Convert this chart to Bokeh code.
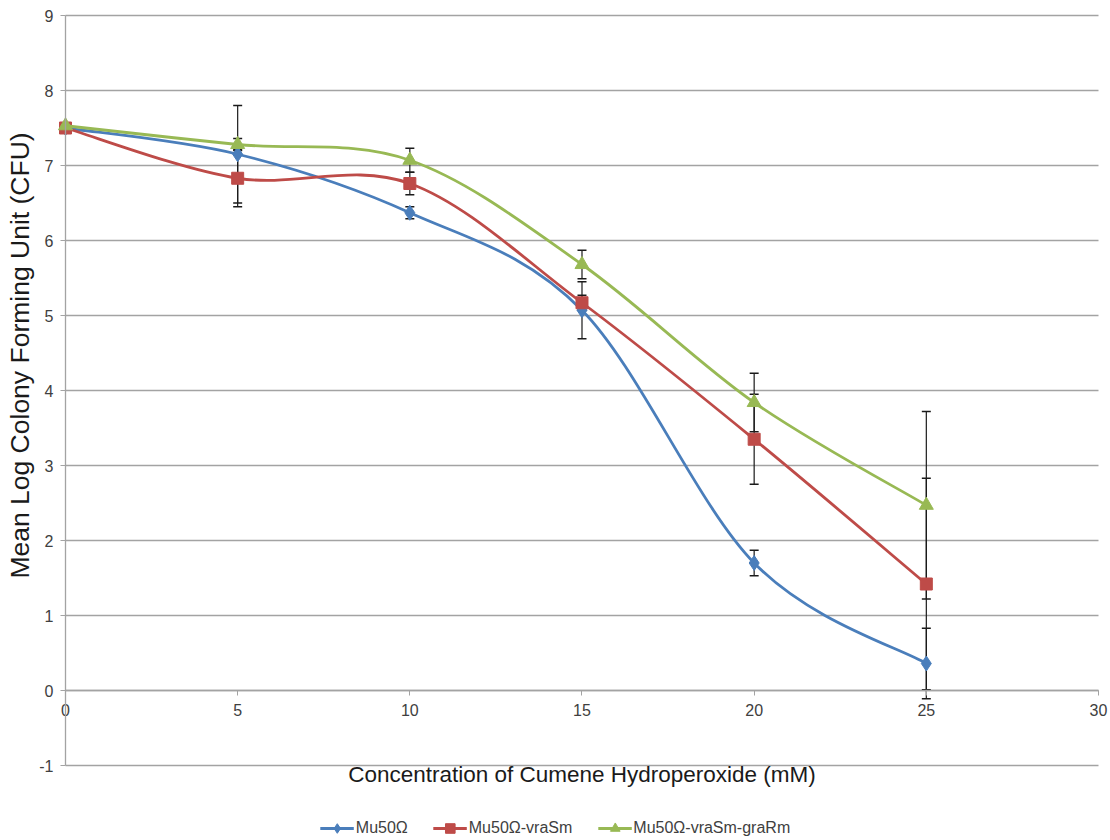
import numpy as np
from bokeh.plotting import figure
from bokeh.models import (Range1d, FixedTicker, ColumnDataSource, Whisker, TeeHead,
                          Legend, LegendItem, LinearAxis)
from bokeh.embed import file_html
from bokeh.resources import INLINE

# ---- data ----
conc = [0, 5, 10, 15, 20, 25]
names = ["Mu50\u03a9", "Mu50\u03a9-vraSm", "Mu50\u03a9-vraSm-graRm"]
mu50 = [7.50, 7.15, 6.37, 5.07, 1.70, 0.36]
mu50_err = [0.0, 0.65, 0.08, 0.38, 0.17, 0.47]
vra = [7.50, 6.83, 6.76, 5.17, 3.35, 1.42]
vra_err = [0.0, 0.38, 0.15, 0.10, 0.60, 1.41]
gra = [7.53, 7.28, 7.07, 5.68, 3.84, 2.47]
gra_err = [0.0, 0.08, 0.16, 0.19, 0.39, 1.25]
x_ticks = [0, 5, 10, 15, 20, 25, 30]
y_ticks = [-1, 0, 1, 2, 3, 4, 5, 6, 7, 8, 9]
x_title = "Concentration of Cumene Hydroperoxide (mM)"
y_title = "Mean Log Colony Forming Unit (CFU)"

colors = ["#4a7ebb", "#be4b48", "#98b954"]
markers = ["diamond", "square", "triangle"]
msizes = [15, 12, 14]

FONT = "Liberation Sans"
GRID = "#a3a3a3"
TICK_TXT = "#404040"

# chart area extents; the frame spans the whole figure so that axes cross at the origin
X0, X1 = x_ticks[0], x_ticks[-1]
Y0, Y1 = y_ticks[0], y_ticks[-1]

p = figure(frame_width=1110, frame_height=840,
           x_range=Range1d(-1.888, 30.349), y_range=Range1d(-2.0, 9.2),
           output_backend="svg", toolbar_location=None,
           min_border_left=0, min_border_top=0, min_border_right=0,
           min_border_bottom=0)
p.outline_line_color = None
p.background_fill_color = "white"
p.border_fill_color = "white"

# main axes, crossing at the origin
p.xaxis.fixed_location = 0
p.yaxis.fixed_location = 0
p.xaxis.bounds = (X0, X1)
p.yaxis.bounds = (Y0, Y1)
p.xaxis.ticker = FixedTicker(ticks=x_ticks)
p.yaxis.ticker = FixedTicker(ticks=y_ticks)
p.yaxis.major_label_overrides = {t: str(t) for t in y_ticks}
for ax in (p.xaxis, p.yaxis):
    ax.axis_line_color = GRID
    ax.axis_line_width = 1.3
    ax.major_tick_line_color = GRID
    ax.minor_tick_line_color = None
    ax.major_tick_in = 0
    ax.major_tick_out = 5
    ax.major_label_text_font = FONT
    ax.major_label_text_font_size = "16px"
    ax.major_label_text_color = TICK_TXT
p.xaxis.major_label_standoff = 8
p.yaxis.major_label_standoff = 7

p.xaxis.axis_label = x_title
p.xaxis.axis_label_text_font = FONT
p.xaxis.axis_label_text_font_size = "22.5px"
p.xaxis.axis_label_text_font_style = "normal"
p.xaxis.axis_label_text_color = "#1a1a1a"
p.xaxis.axis_label_standoff = 43

# y title on its own (label-only) axis so it can be centred like the reference
ylab = LinearAxis(fixed_location=0, bounds=(-0.06, Y1), ticker=FixedTicker(ticks=[]),
                  axis_line_color=None, major_tick_line_color=None,
                  minor_tick_line_color=None, major_label_standoff=0,
                  major_tick_out=0, major_tick_in=0,
                  axis_label=y_title, axis_label_text_font=FONT,
                  axis_label_text_font_size="26.5px", axis_label_text_font_style="normal",
                  axis_label_text_color="#1a1a1a", axis_label_standoff=31)
p.add_layout(ylab, "left")

p.xgrid.grid_line_color = None
p.ygrid.grid_line_color = GRID
p.ygrid.grid_line_width = 1.3
p.ygrid.bounds = (Y0, Y1)
p.ygrid.cross_bounds = (X0, X1)

series = [mu50, vra, gra]
errs = [mu50_err, vra_err, gra_err]

# error bars
for ys, es in zip(series, errs):
    bx = [x for x, e in zip(conc, es) if e > 0]
    up = [y + e for y, e in zip(ys, es) if e > 0]
    lo = [y - e for y, e in zip(ys, es) if e > 0]
    src = ColumnDataSource(dict(base=bx, upper=up, lower=lo))
    w = Whisker(source=src, base="base", upper="upper", lower="lower",
                line_color="#1a1a1a", line_width=1.2,
                upper_head=TeeHead(size=9, line_color="#1a1a1a", line_width=1.5),
                lower_head=TeeHead(size=9, line_color="#1a1a1a", line_width=1.5))
    p.add_layout(w)

# smoothed lines (cubic Bezier through the data points, Excel-style smoothing)
items = []
for ys, c, m, ms, name in zip(series, colors, markers, msizes, names):
    P = np.column_stack([np.array(conc, float), np.array(ys, float)])
    n = len(P)
    segs = dict(x0=[], y0=[], x1=[], y1=[], cx0=[], cy0=[], cx1=[], cy1=[])
    for i in range(n - 1):
        p0 = P[i - 1] if i > 0 else P[i]
        p1 = P[i]
        p2 = P[i + 1]
        p3 = P[i + 2] if i + 2 < n else P[i + 1]
        c1 = p1 + (p2 - p0) / 6.0
        c2 = p2 - (p3 - p1) / 6.0
        segs["x0"].append(p1[0]); segs["y0"].append(p1[1])
        segs["x1"].append(p2[0]); segs["y1"].append(p2[1])
        segs["cx0"].append(c1[0]); segs["cy0"].append(c1[1])
        segs["cx1"].append(c2[0]); segs["cy1"].append(c2[1])
    rb = p.bezier(x0="x0", y0="y0", x1="x1", y1="y1", cx0="cx0", cy0="cy0",
                  cx1="cx1", cy1="cy1", source=ColumnDataSource(segs),
                  line_color=c, line_width=2.8)
    rs = p.scatter(conc, ys, marker=m, size=ms, fill_color=c, line_color=c)
    items.append(LegendItem(label=name, renderers=[rb, rs]))

legend = Legend(items=items, orientation="horizontal", location="bottom_center",
                label_text_font=FONT, label_text_font_size="16px",
                label_text_color=TICK_TXT, border_line_color=None,
                background_fill_alpha=0, glyph_width=34, glyph_height=24,
                spacing=25, padding=2, margin=0, label_standoff=2)
p.add_layout(legend, "center")

open("out.html", "w").write(file_html(p, INLINE))
